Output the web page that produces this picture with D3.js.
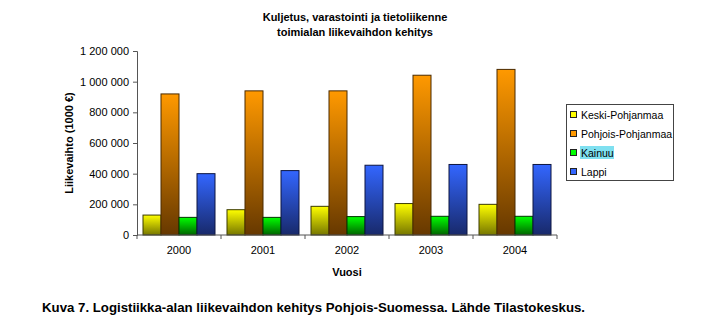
<!DOCTYPE html>
<html>
<head>
<meta charset="utf-8">
<script src="https://cdn.jsdelivr.net/npm/d3@7/dist/d3.min.js"></script>
<style>
  html, body { margin: 0; padding: 0; background: #fff; }
  svg { display: block; font-family: Arial, "Liberation Sans", sans-serif; }
</style>
</head>
<body>
<svg id="chart" width="717" height="328"></svg>
<script>
// Liikevaihto (1000 €) by region and year
const years = ["2000", "2001", "2002", "2003", "2004"];
const regions = ["Keski-Pohjanmaa", "Pohjois-Pohjanmaa", "Kainuu", "Lappi"];
const keskiPohjanmaa   = [130000, 165000, 187000, 205000, 200000];
const pohjoisPohjanmaa = [920000, 940000, 940000, 1042000, 1080000];
const kainuu           = [115000, 115000, 120000, 122000, 122000];
const lappi            = [400000, 420000, 455000, 460000, 460000];
const yTicks = [0, 200000, 400000, 600000, 800000, 1000000, 1200000];

const seriesValues = [keskiPohjanmaa, pohjoisPohjanmaa, kainuu, lappi];
const palette = [
  { top: "#ffff00", bottom: "#767600", stroke: "#3a3a00" },
  { top: "#ff9900", bottom: "#663800", stroke: "#4a2a00" },
  { top: "#00ff00", bottom: "#006400", stroke: "#003300" },
  { top: "#3366ff", bottom: "#18296a", stroke: "#0c1540" }
];

const svg = d3.select("#chart");
const plot = { left: 137, right: 557, top: 51, bottom: 235 };

const x = d3.scaleBand().domain(years).range([plot.left, plot.right]);
const xInner = d3.scaleBand().domain(regions)
  .range([6, x.bandwidth() - 6]).paddingInner(0);
const y = d3.scaleLinear().domain([0, 1200000]).range([plot.bottom, plot.top]);

const fmt = v => d3.format(",")(v).replace(/,/g, " ");

// gradients
const defs = svg.append("defs");
palette.forEach((p, i) => {
  const g = defs.append("linearGradient").attr("id", "grad" + i)
    .attr("x1", 0).attr("y1", 0).attr("x2", 0).attr("y2", 1);
  g.append("stop").attr("offset", "0%").attr("stop-color", p.top);
  g.append("stop").attr("offset", "100%").attr("stop-color", p.bottom);
});

// title
svg.append("text").attr("x", 355).attr("y", 21).attr("text-anchor", "middle")
  .attr("font-size", 11).attr("font-weight", "bold").text("Kuljetus, varastointi ja tietoliikenne");
svg.append("text").attr("x", 355).attr("y", 36).attr("text-anchor", "middle")
  .attr("font-size", 11).attr("font-weight", "bold").text("toimialan liikevaihdon kehitys");

// bars
const groups = svg.append("g").selectAll("g").data(years).join("g")
  .attr("transform", d => `translate(${x(d)},0)`);
groups.selectAll("rect")
  .data((yr, yi) => regions.map((r, ri) => ({ r, ri, v: seriesValues[ri][yi] })))
  .join("rect")
  .attr("x", d => xInner(d.r))
  .attr("y", d => y(d.v))
  .attr("width", xInner.bandwidth())
  .attr("height", d => y(0) - y(d.v))
  .attr("fill", d => `url(#grad${d.ri})`)
  .attr("stroke", d => palette[d.ri].stroke)
  .attr("stroke-width", 1);

// y axis
const yAxis = d3.axisLeft(y).tickValues(yTicks).tickFormat(fmt).tickSize(4).tickPadding(4);
const gy = svg.append("g").attr("transform", `translate(${plot.left},0)`).call(yAxis);
gy.select(".domain").attr("stroke", "#555");
gy.selectAll(".tick line").attr("stroke", "#555");
gy.selectAll("text").attr("font-size", 11).attr("fill", "#000")
  .attr("font-family", "Arial, 'Liberation Sans', sans-serif");

// x axis: ticks at category boundaries
const gx = svg.append("g").attr("transform", `translate(0,${plot.bottom})`);
gx.append("line").attr("x1", plot.left).attr("x2", plot.right)
  .attr("stroke", "#555");
gx.selectAll("line.tk").data(d3.range(years.length + 1)).join("line")
  .attr("class", "tk")
  .attr("x1", i => plot.left + i * x.step()).attr("x2", i => plot.left + i * x.step())
  .attr("y1", 0).attr("y2", 4).attr("stroke", "#555");
gx.selectAll("text").data(years).join("text")
  .attr("x", d => x(d) + x.bandwidth() / 2).attr("y", 19)
  .attr("text-anchor", "middle").attr("font-size", 11).text(d => d);

// axis titles
svg.append("text").attr("x", 347).attr("y", 276).attr("text-anchor", "middle")
  .attr("font-size", 11).attr("font-weight", "bold").text("Vuosi");
svg.append("text").attr("transform", "translate(73,143) rotate(-90)")
  .attr("text-anchor", "middle").attr("font-size", 11).attr("font-weight", "bold")
  .text("Liikevaihto (1000 €)");

// legend
const legend = svg.append("g");
legend.append("rect").attr("x", 566.5).attr("y", 104.5).attr("width", 107).attr("height", 76)
  .attr("fill", "#fff").attr("stroke", "#444");
regions.forEach((r, i) => {
  const ly = 115 + i * 19;
  if (r === "Kainuu") {
    legend.append("rect").attr("x", 580).attr("y", ly - 7).attr("width", 34).attr("height", 13)
      .attr("fill", "#7fe0f0");
  }
  legend.append("rect").attr("x", 570.5).attr("y", ly - 3.5).attr("width", 6).attr("height", 6)
    .attr("fill", palette[i].top).attr("stroke", "#222");
  legend.append("text").attr("x", 581).attr("y", ly + 4).attr("font-size", 10.5).text(r);
});

// caption
svg.append("text").attr("x", 42).attr("y", 312).attr("font-size", 13).attr("font-weight", "bold")
  .attr("textLength", 543).attr("lengthAdjust", "spacingAndGlyphs")
  .text("Kuva 7. Logistiikka-alan liikevaihdon kehitys Pohjois-Suomessa. Lähde Tilastokeskus.");
</script>
</body>
</html>
